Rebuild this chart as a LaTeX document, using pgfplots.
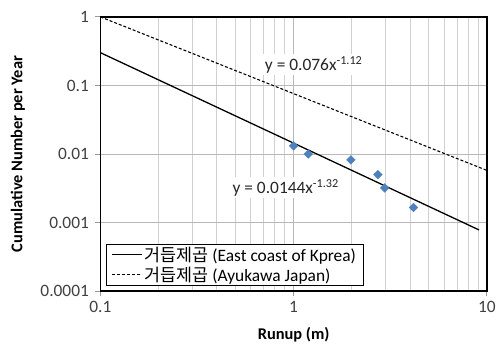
\documentclass[border=0pt]{standalone}
\usepackage{fontspec}
\setmainfont{Carlito}
\newfontfamily\kr{Noto Sans CJK KR}
\usepackage{pgfplots}
\pgfplotsset{compat=1.18}
\definecolor{ptblue}{HTML}{4F81BD}
\definecolor{txt}{HTML}{404040}
\begin{document}
\begin{tikzpicture}[x=1pt,y=1pt]
\path (-101,-51) rectangle (398,293);
\begin{axis}[
  at={(0,0)}, anchor=south west,
  scale only axis, width=389pt, height=276pt,
  xmode=log, ymode=log,
  xmin=0.1, xmax=10, ymin=0.0001, ymax=1,
  xtick={0.1,1,10}, xticklabels={0.1,1,10},
  ytick={0.0001,0.001,0.01,0.1,1}, yticklabels={0.0001,0.001,0.01,0.1,1},
  minor xtick={0.2,0.3,0.4,0.5,0.6,0.7,0.8,0.9,2,3,4,5,6,7,8,9},
  minor ytick={},
  xmajorgrids, xminorgrids, ymajorgrids, yminorgrids=false,
  major grid style={draw=black!28, line width=0.8pt},
  minor grid style={draw=black!18, line width=0.8pt},
  minor tick length=0pt,
  major tick length=5pt,
  tick align=outside,
  tick style={draw=black!40, line width=0.8pt},
  xtick pos=bottom, ytick pos=left,
  axis line style={black, line width=1.3pt},
  /pgf/number format/assume math mode=true,
  tick label style={font=\fontsize{17.5}{20}\selectfont, text=txt},
  xticklabel style={yshift=-2pt},
  yticklabel style={xshift=-3pt},
  xlabel={\textbf{Runup (m)}},
  ylabel={\textbf{Cumulative Number per Year}},
  label style={font=\fontsize{16.5}{19}\selectfont},
  xlabel style={at={(axis description cs:0.5,-0.16)}, anchor=center},
  ylabel style={at={(axis description cs:-0.213,0.5)}, anchor=center},
  legend style={at={(axis description cs:0.0154,0.0182)}, anchor=south west, draw=black, line width=0.8pt,
    fill=white, font=\fontsize{17.5}{20}\selectfont, row sep=0pt,
    inner xsep=5pt, inner ysep=1pt},
  legend cell align=left,
  legend image code/.code={\draw[#1, line width=1pt] (0pt,0pt) -- (30pt,0pt);},
]
\addplot[black, line width=1.3pt] coordinates {(0.1,0.301) (9.1,0.000782)};
\addlegendentry{{\kr 거듭제곱} (East coast of Kprea)}
\addplot[black, line width=1.1pt, dash pattern=on 3pt off 2pt] coordinates {(0.1,1.0) (10,0.00577)};
\addlegendentry{{\kr 거듭제곱} (Ayukawa Japan)}
\addplot[only marks, mark=square*, mark size=3.1pt, mark options={rotate=45}, color=ptblue, forget plot] coordinates {
(1.0,0.0131) (1.19,0.0100) (1.98,0.0082) (2.73,0.0050) (2.96,0.0032) (4.17,0.00166)};
\node[fill=white, inner sep=2pt, font=\fontsize{17.5}{20}\selectfont, text=black!85] at (axis cs:1.27,0.2) {y = 0.076x\textsuperscript{-1.12}};
\node[fill=white, inner sep=2pt, font=\fontsize{17.5}{20}\selectfont, text=black!85] at (axis cs:0.91,0.0032) {y = 0.0144x\textsuperscript{-1.32}};
\end{axis}
\end{tikzpicture}
\end{document}
